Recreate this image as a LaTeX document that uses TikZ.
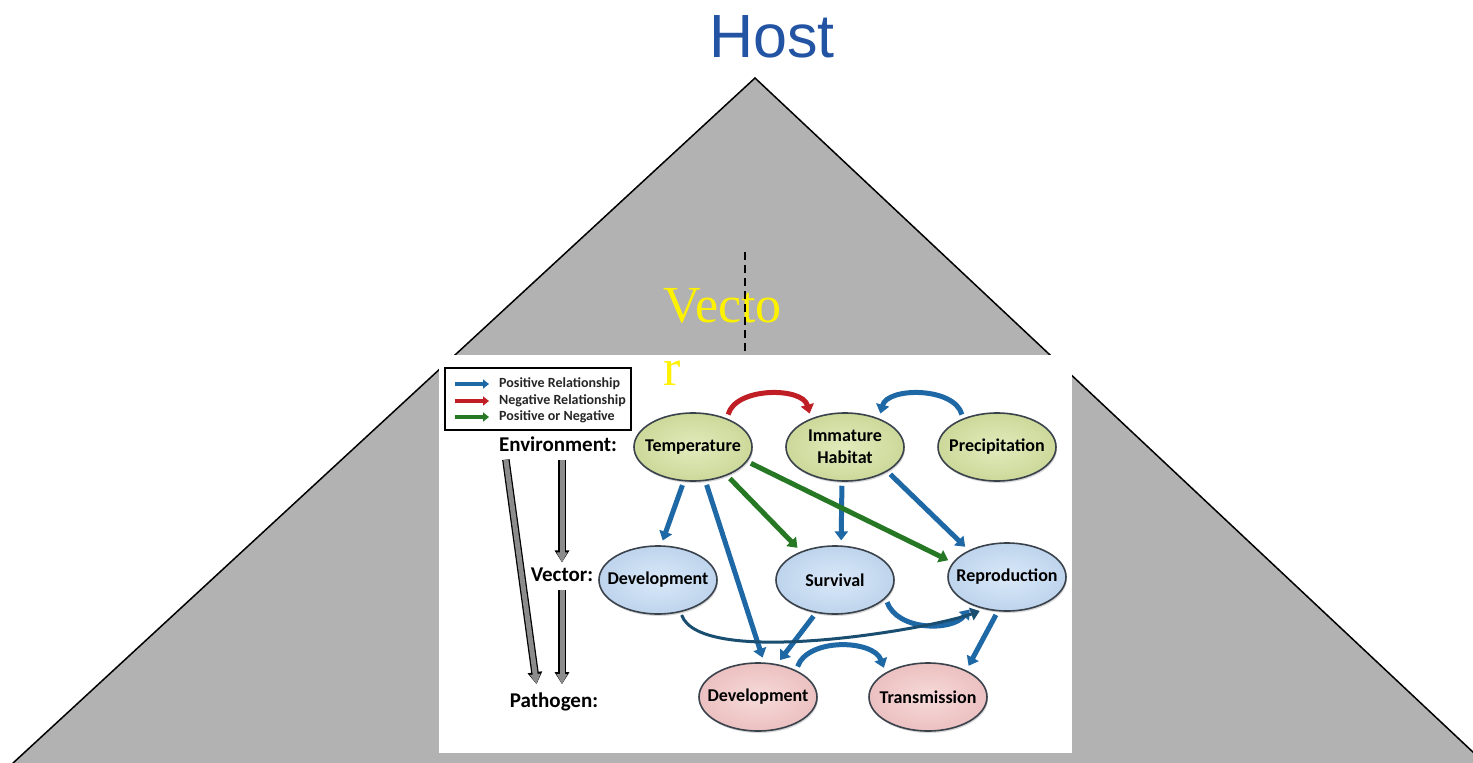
\documentclass[tikz,border=0pt]{standalone}
\usepackage{fontspec}
\newfontfamily\hostfont{Liberation Sans}
\newfontfamily\timesfont{Liberation Serif}
\newfontfamily\boxfont{Carlito}
\usetikzlibrary{arrows.meta,shapes.geometric,shadows,positioning}

\definecolor{hostblue}{RGB}{35,84,163}
\definecolor{pyramid}{RGB}{178,178,178}
\definecolor{posblue}{RGB}{30,104,166}
\definecolor{negred}{RGB}{190,30,36}
\definecolor{mixgreen}{RGB}{38,120,36}
\definecolor{sweepblue}{RGB}{26,78,112}
\definecolor{envfill}{RGB}{213,226,160}
\definecolor{vecfill}{RGB}{196,219,244}
\definecolor{pathfill}{RGB}{243,198,198}
\definecolor{rim}{RGB}{58,66,76}

\begin{document}
\begin{tikzpicture}[x=1pt,y=1pt,>={Triangle[length=9pt,width=13pt]},node distance=152pt]
        \tikzstyle{blob}=[ellipse,draw=rim,line width=1.6pt,minimum width=118pt,minimum height=68pt,
            inner xsep=-9pt,inner ysep=0pt,align=center,font=\boxfont\bfseries\fontsize{18}{22}\selectfont,
            drop shadow={opacity=0.3,shadow xshift=1pt,shadow yshift=-2pt}]
        \tikzstyle{envblob}=[blob,inner color=envfill!70,outer color=envfill!96!black]
        \tikzstyle{vecblob}=[blob,inner color=vecfill!65,outer color=vecfill!97!black]
        \tikzstyle{pathblob}=[blob,inner color=pathfill!65,outer color=pathfill!97!black]
        \tikzstyle{level}=[inner sep=0pt,font=\boxfont\bfseries\fontsize{21}{25}\selectfont]
        \tikzstyle{key}=[anchor=west,inner sep=0pt,text=black!85,font=\boxfont\bfseries\fontsize{14}{16}\selectfont]
        \tikzstyle{keyarrow}=[-{Triangle[length=6pt,width=9pt]},line width=4pt]
        \tikzstyle{posrel}=[->,line width=5pt,draw=posblue,shorten >=5pt,shorten <=4pt]
        \tikzstyle{negrel}=[posrel,draw=negred]
        \tikzstyle{mixrel}=[posrel,draw=mixgreen]
        \tikzstyle{sweep}=[->,line width=3pt,draw=sweepblue,shorten >=5pt,shorten <=3pt]
        \tikzstyle{stage}=[-{Triangle[length=10pt,width=10pt]},line width=5pt,draw=black!45,shorten >=1.5pt,
            preaction={draw=black,line width=7.5pt,-{Triangle[length=12pt,width=14pt]}}]

        % pyramid and the panel on top of it
        \useasboundingbox (0,0) rectangle (1473,-763);
        \filldraw[fill=pyramid,draw=black,line width=1.5pt] (755,-78) -- (1524,-800) -- (-27,-800) -- cycle;
        \fill[white] (439,-355) rectangle (1072,-753);

        \node[anchor=base,inner sep=0pt,text=hostblue,font=\hostfont\fontsize{61}{61}\selectfont] (host) at (772,-57) {Host};
        \node[anchor=base west,inner sep=0pt,align=left,text=yellow,font=\timesfont\fontsize{52}{63}\selectfont] (vector) at (663,-385) {Vecto\\r};
        \draw[line width=1.8pt,dash pattern=on 8pt off 5pt] (745,-252) -- (745,-355);

        % legend
        \node[draw=black,line width=1.5pt,minimum width=186pt,minimum height=62pt,inner sep=0pt] (legend) at (538,-399) {};
        \node[key] (keypos) at (499,-384) {Positive Relationship};
        \node[key] (keyneg) at (499,-401) {Negative Relationship};
        \node[key] (keymix) at (499,-417) {Positive or Negative};
        \draw[keyarrow,posblue] ([xshift=-44pt]keypos.west) -- ([xshift=-10pt]keypos.west);
        \draw[keyarrow,negred] ([xshift=-44pt]keyneg.west) -- ([xshift=-10pt]keyneg.west);
        \draw[keyarrow,mixgreen] ([xshift=-44pt]keymix.west) -- ([xshift=-10pt]keymix.west);

        % levels
        \node[level] (envlabel) at (558,-444) {Environment:};
        \node[level] (veclabel) at (562,-575) {Vector:};
        \node[level] (pathlabel) at (554,-702) {Pathogen:};
        \draw[stage] ([xshift=7pt,yshift=-8pt]envlabel.south west) -- ([xshift=27pt,yshift=7pt]pathlabel.north west);
        \draw[stage] ([xshift=4pt,yshift=-8pt]envlabel.south) -- ([yshift=4pt]veclabel.north);
        \draw[stage] ([yshift=-8pt]veclabel.south) -- ([xshift=8pt,yshift=7pt]pathlabel.north);

        % environment, vector and pathogen factors
        \node[envblob] (temp) at (693,-447) {Temperature};
        \node[envblob,right of=temp] (habitat) {Immature\\Habitat};
        \node[envblob,right of=habitat] (precip) {Precipitation};
        \node[vecblob] (vdev) at (658,-580) {Development};
        \node[vecblob,right of=vdev,node distance=177pt] (surv) {Survival};
        \node[vecblob] (repro) at (1007,-577) {Reproduction};
        \node[pathblob] (pdev) at (758,-697) {Development};
        \node[pathblob,right of=pdev,node distance=170pt] (trans) {Transmission};

        \draw[negrel] (temp.40) to[out=75,in=105] (habitat.140);
        \draw[posrel] (precip.140) to[out=105,in=75] (habitat.40);
        \draw[posrel] (temp.255) -- (vdev.85);
        \draw[posrel] (temp.290) -- (pdev.80);
        \draw[mixrel] (temp.320) -- (surv.140);
        \draw[posrel] (habitat.265) -- (surv.80);
        \draw[mixrel] (temp.345) -- (repro.165);
        \draw[posrel] (habitat.330) -- (repro.145);
        \draw[posrel] (surv.240) -- (pdev.60);
        \draw[posrel] (surv.340) to[out=-70,in=-130] (repro.220);
        \draw[sweep] (vdev.305) to[out=-70,in=-160,looseness=0.5] (repro.235);
        \draw[posrel] (repro.255) -- (trans.35);
        \draw[posrel] (pdev.35) to[out=70,in=110] (trans.150);
\end{tikzpicture}
\end{document}
